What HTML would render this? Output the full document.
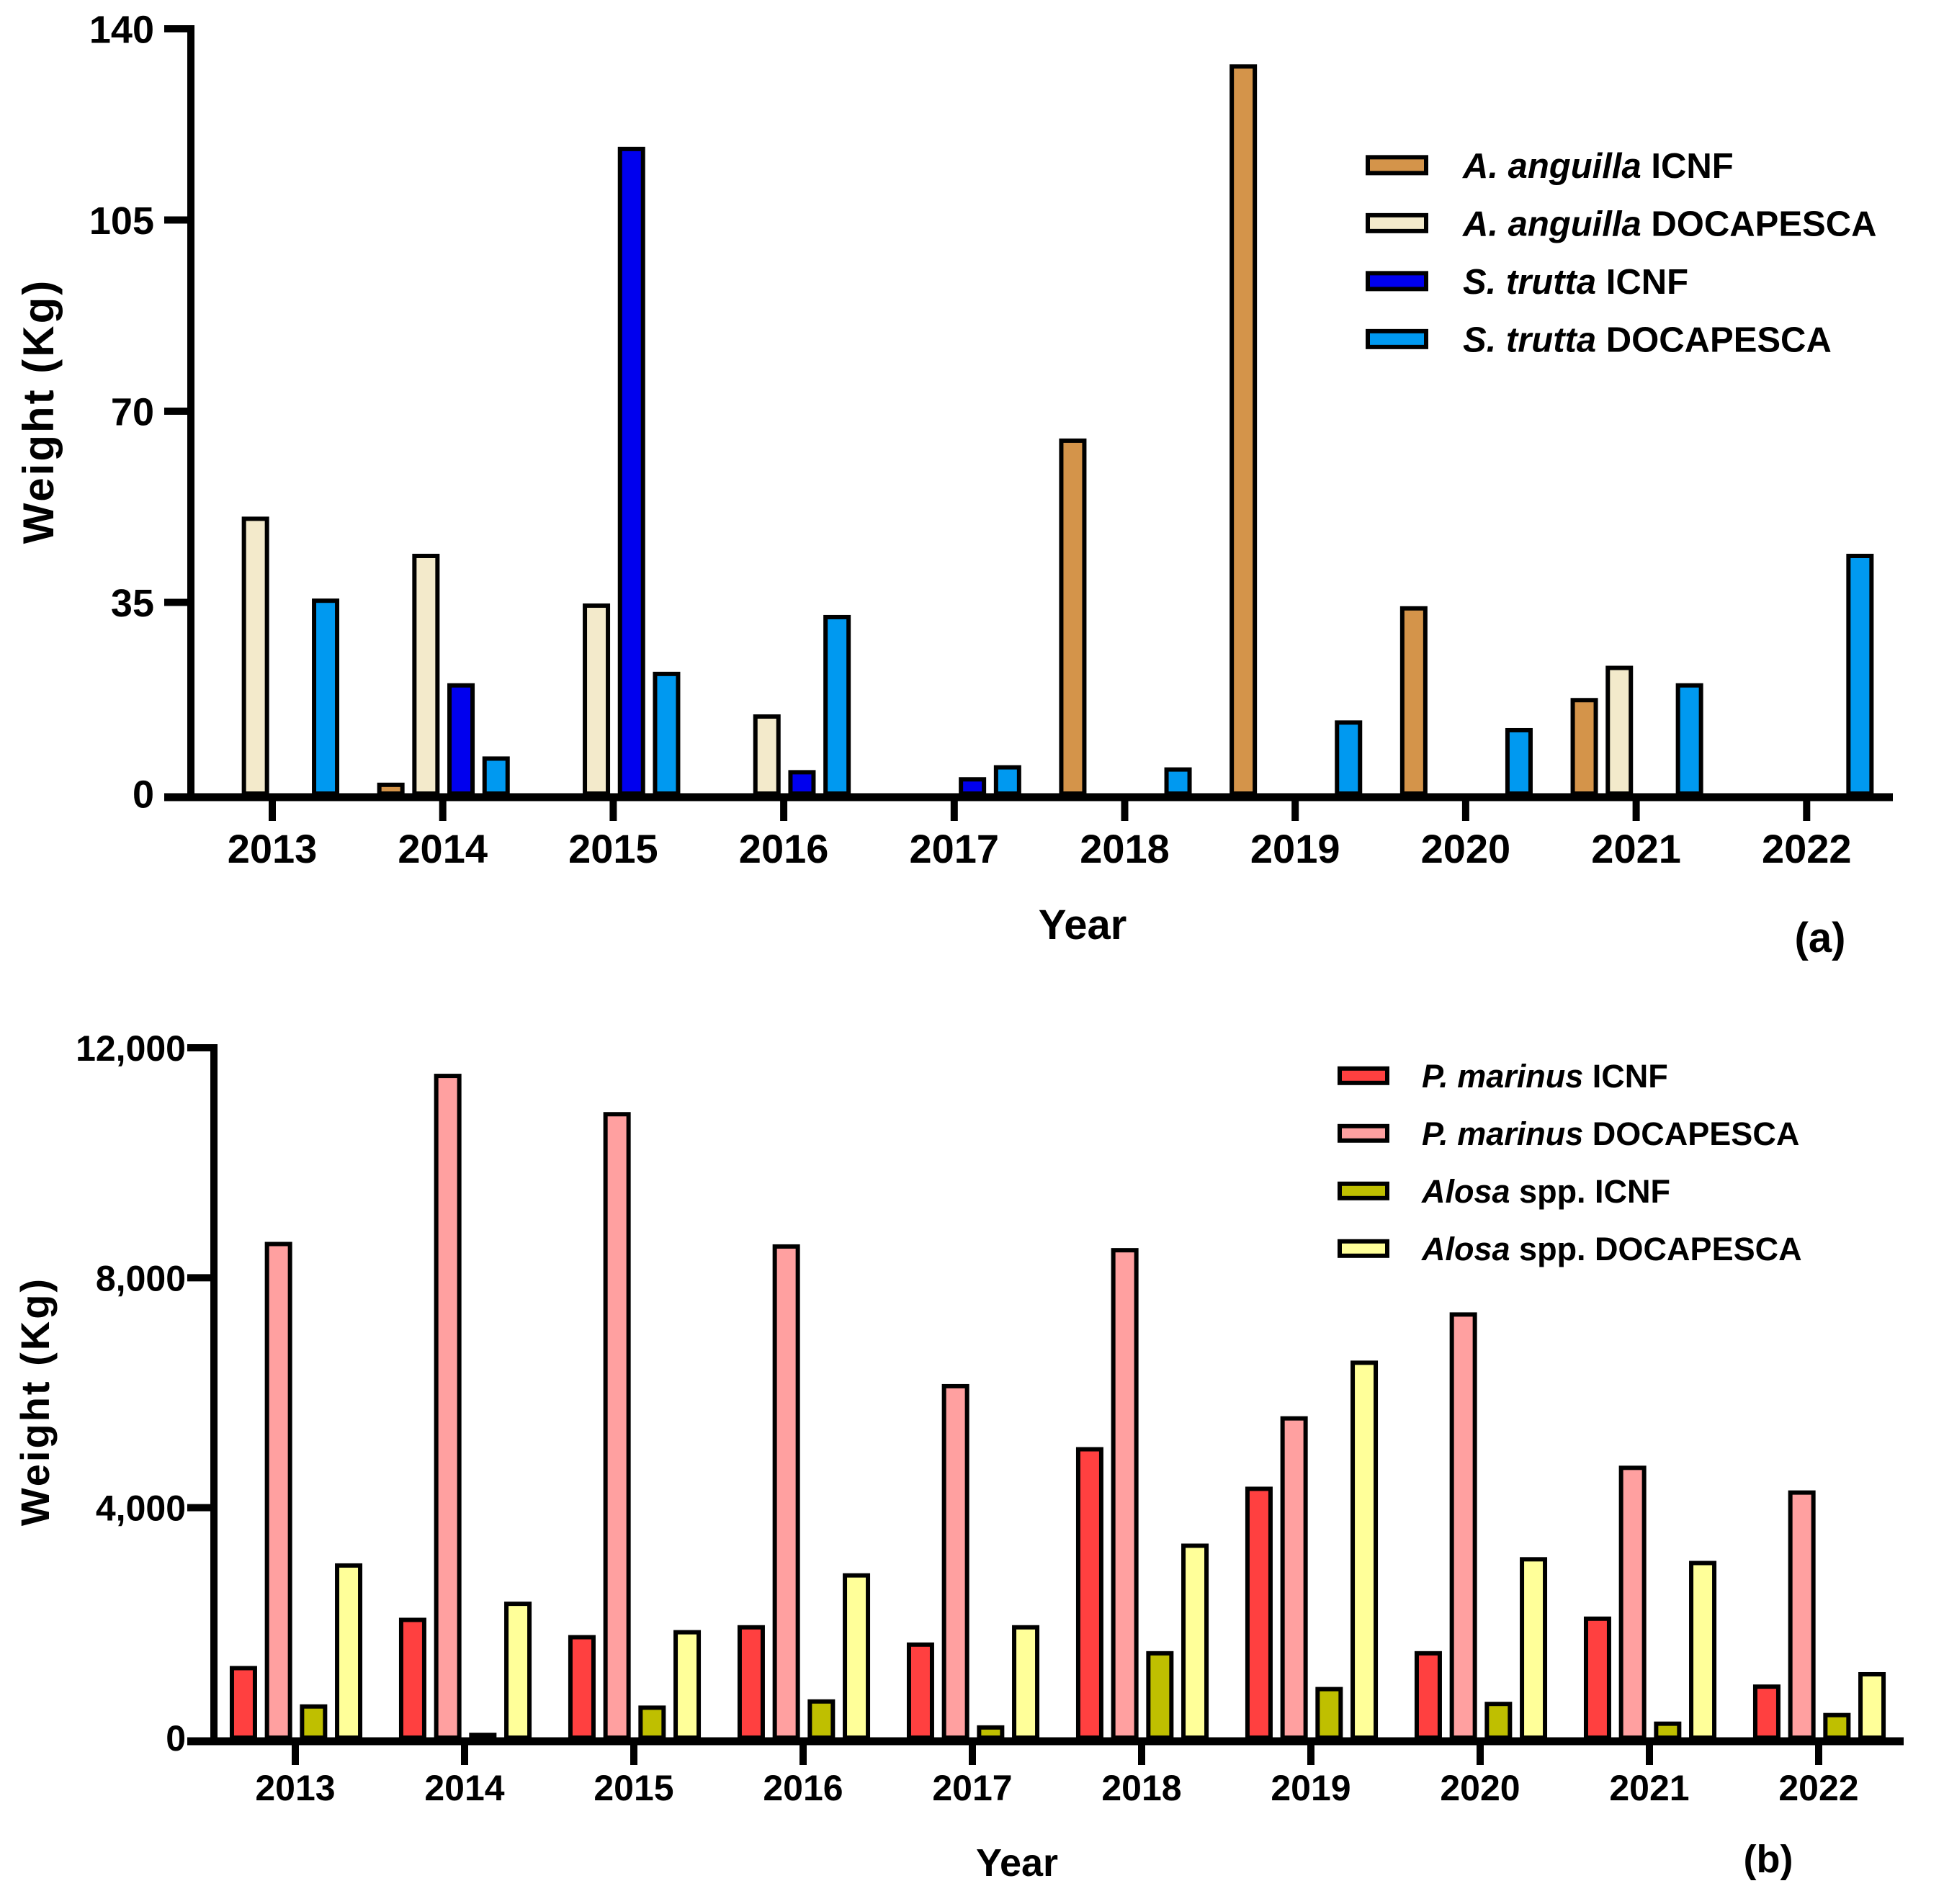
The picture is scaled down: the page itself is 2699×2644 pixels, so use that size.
<!DOCTYPE html>
<html><head><meta charset="utf-8"><style>
html,body{margin:0;padding:0;background:#fff}
svg{display:block}
text{font-family:"Liberation Sans",Arial,sans-serif;font-weight:bold;fill:#000}
</style></head><body>
<svg id="root" width="2699" height="2644" viewBox="0 0 2699 2644" xmlns="http://www.w3.org/2000/svg"></svg>
<script>
const years = ["2013","2014","2015","2016","2017","2018","2019","2020","2021","2022"];
const aAnguillaICNF = [0,2,0,0,0,65,133.5,34.3,17.5,0];
const aAnguillaDOC = [50.7,43.9,34.8,14.5,0,0,0,0,23.4,0];
const sTruttaICNF = [0,20.2,118.4,4.3,3,0,0,0,0,0];
const sTruttaDOC = [35.7,6.8,22.3,32.7,5.2,4.8,13.4,12,20.2,43.9];
const ticksA = [0,35,70,105,140];
const pMarinusICNF = [1247,2086,1785,1957,1656,5054,4366,1505,2107,925];
const pMarinusDOC = [8624,11548,10882,8581,6151,8516,5591,7398,4731,4301];
const alosaICNF = [580,86,559,667,215,1505,882,624,280,430];
const alosaDOC = [3032,2366,1871,2860,1957,3376,6559,3140,3075,1140];
const ticksB = [0,4000,8000,12000];

const NS="http://www.w3.org/2000/svg";
const root=document.getElementById('root');
function mk(tag,attrs,parent){const e=document.createElementNS(NS,tag);for(const k in attrs)e.setAttribute(k,attrs[k]);(parent||root).appendChild(e);return e;}

function chart(cfg){
  const g=mk('g',{});
  
  
  const y=v=>cfg.y0-(v/cfg.max)*(cfg.y0-cfg.yTop);
  const x=i=>cfg.x0+i*cfg.step;
  cfg.series.forEach((s,si)=>{
    s.data.forEach((v,i)=>{
      if(v<=0)return;
      const cx=x(i)+(si-1.5)*48.7+1;
      const r=mk('rect',{x:cx-16,y:y(v)+3,width:32,height:Math.max(cfg.y0-y(v)-3,1),fill:s.color,stroke:'#000','stroke-width':6},g);
      
      
    });
  });
  const ya=mk('line',{x1:cfg.ax,y1:cfg.yTop-5,x2:cfg.ax,y2:cfg.y0,stroke:'#000','stroke-width':10},g);
  
  const xa=mk('line',{x1:cfg.ax-37,y1:cfg.y0+5,x2:cfg.xEnd,y2:cfg.y0+5,stroke:'#000','stroke-width':11},g);
  
  cfg.ticks.forEach(t=>{
    if(t>0) mk('line',{x1:cfg.ax-37,y1:y(t),x2:cfg.ax,y2:y(t),stroke:'#000','stroke-width':10},g);
    const tx=mk('text',{x:cfg.ylx,y:y(t)+cfg.yfs*0.36,'text-anchor':'end','font-size':cfg.yfs},g);
    tx.textContent=t.toLocaleString('en-US');
    
  });
  years.forEach((yr,i)=>{
    mk('line',{x1:x(i),y1:cfg.y0,x2:x(i),y2:cfg.y0+38,stroke:'#000','stroke-width':10},g);
    const tx=mk('text',{x:x(i),y:cfg.yLab,'text-anchor':'middle','font-size':cfg.fs},g);
    tx.textContent=yr;
    
  });
  const xt=mk('text',{x:cfg.xt[0],y:cfg.xt[1],'text-anchor':'middle','font-size':cfg.tfs},g);
  xt.textContent='Year';
  const pl=mk('text',{x:cfg.pl[0],y:cfg.pl[1],'text-anchor':'middle','font-size':cfg.tfs},g);
  pl.textContent=cfg.panel;
  const yt=mk('text',{x:0,y:0,'text-anchor':'middle','font-size':cfg.ytfs,transform:`translate(${cfg.yt[0]},${cfg.yt[1]}) rotate(-90)`,'letter-spacing':'3'},g);
  yt.textContent='Weight (Kg)';
  cfg.series.forEach((s,si)=>{
    const bl=cfg.leg.y+si*cfg.leg.dy;
    const lg=mk('g',{},g);
    
    mk('rect',{x:cfg.leg.x+3,y:bl-cfg.leg.fs*0.36-cfg.leg.h/2+3,width:cfg.leg.w-6,height:cfg.leg.h-6,fill:s.color,stroke:'#000','stroke-width':6},lg);
    const t=mk('text',{x:cfg.leg.tx,y:bl,'font-size':cfg.leg.fs},lg);
    const it=mk('tspan',{'font-style':'italic'},t);it.textContent=s.it;
    const rt=mk('tspan',{},t);rt.textContent=' '+s.rest;
  });
}

chart({name:'chart-a',x0:378,step:236.7,ax:265,xEnd:2628,y0:1102,yTop:40,max:140,ticks:ticksA,fs:56,yfs:54,ylx:214,yLab:1198,tfs:58,ytfs:60,
  xt:[1503,1304],pl:[2527,1322],panel:'(a)',yt:[74,571],
  leg:{x:1896,w:87,h:28,tx:2031,y:247,dy:80.5,fs:49},
  series:[
    {key:'a-anguilla-icnf',data:aAnguillaICNF,color:'#D4944A',it:'A. anguilla',rest:'ICNF'},
    {key:'a-anguilla-docapesca',data:aAnguillaDOC,color:'#F3EACB',it:'A. anguilla',rest:'DOCAPESCA'},
    {key:'s-trutta-icnf',data:sTruttaICNF,color:'#0000EE',it:'S. trutta',rest:'ICNF'},
    {key:'s-trutta-docapesca',data:sTruttaDOC,color:'#0099F0',it:'S. trutta',rest:'DOCAPESCA'}]});

chart({name:'chart-b',x0:410,step:235,ax:297,xEnd:2643,y0:2413,yTop:1455,max:12000,ticks:ticksB,fs:50,yfs:50,ylx:258,yLab:2500,tfs:54,ytfs:56,
  xt:[1412,2605],pl:[2455,2600],panel:'(b)',yt:[68,1946],
  leg:{x:1857,w:72,h:26,tx:1974,y:1510,dy:80,fs:45},
  series:[
    {key:'p-marinus-icnf',data:pMarinusICNF,color:'#FF4040',it:'P. marinus',rest:'ICNF'},
    {key:'p-marinus-docapesca',data:pMarinusDOC,color:'#FFA0A0',it:'P. marinus',rest:'DOCAPESCA'},
    {key:'alosa-icnf',data:alosaICNF,color:'#BFBF00',it:'Alosa',rest:'spp. ICNF'},
    {key:'alosa-docapesca',data:alosaDOC,color:'#FFFF99',it:'Alosa',rest:'spp. DOCAPESCA'}]});
</script>
</body></html>
